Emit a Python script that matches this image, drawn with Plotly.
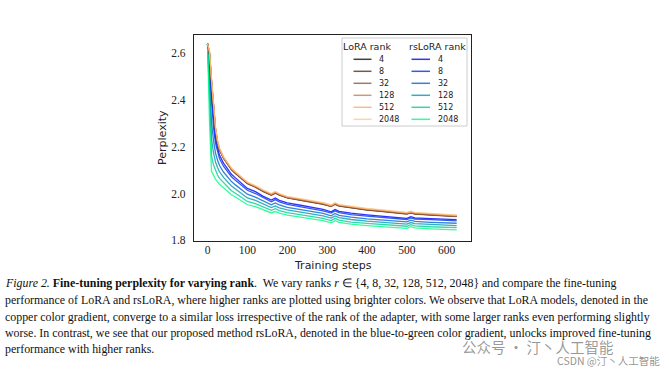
import plotly.graph_objects as go

steps = [0, 5, 10, 15, 20, 25, 30, 40, 50, 60, 70, 80, 90, 100, 120, 140, 160, 170, 180, 200,
         230, 260, 290, 310, 320, 330, 360, 400, 440, 480, 500, 510, 520, 560, 600, 625]

ranks = ["4", "8", "32", "128", "512", "2048"]

lora_4 = [2.640, 2.600, 2.480, 2.360, 2.275, 2.220, 2.188, 2.152, 2.127, 2.103, 2.087, 2.072, 2.057, 2.043, 2.028, 2.009, 1.994, 2.003, 1.994, 1.982, 1.973, 1.965, 1.955, 1.945, 1.955, 1.947, 1.939, 1.930, 1.924, 1.918, 1.913, 1.918, 1.913, 1.909, 1.905, 1.902]
lora_8 = [2.640, 2.598, 2.476, 2.357, 2.273, 2.219, 2.188, 2.153, 2.128, 2.104, 2.088, 2.073, 2.058, 2.044, 2.029, 2.010, 1.995, 2.004, 1.995, 1.983, 1.974, 1.966, 1.956, 1.946, 1.956, 1.948, 1.940, 1.931, 1.925, 1.919, 1.914, 1.919, 1.914, 1.910, 1.906, 1.903]
lora_32 = [2.640, 2.595, 2.470, 2.352, 2.270, 2.217, 2.186, 2.151, 2.126, 2.102, 2.086, 2.071, 2.056, 2.042, 2.027, 2.008, 1.993, 2.002, 1.993, 1.981, 1.972, 1.964, 1.954, 1.944, 1.954, 1.946, 1.938, 1.929, 1.923, 1.917, 1.912, 1.917, 1.912, 1.908, 1.904, 1.901]
lora_128 = [2.640, 2.600, 2.478, 2.358, 2.275, 2.221, 2.190, 2.154, 2.129, 2.105, 2.089, 2.074, 2.059, 2.045, 2.030, 2.011, 1.996, 2.005, 1.996, 1.984, 1.975, 1.967, 1.957, 1.947, 1.957, 1.949, 1.941, 1.932, 1.926, 1.920, 1.915, 1.920, 1.915, 1.911, 1.907, 1.904]
lora_512 = [2.640, 2.605, 2.485, 2.365, 2.280, 2.225, 2.192, 2.156, 2.131, 2.107, 2.091, 2.076, 2.061, 2.047, 2.032, 2.013, 1.998, 2.007, 1.998, 1.986, 1.977, 1.969, 1.959, 1.949, 1.959, 1.951, 1.943, 1.934, 1.928, 1.922, 1.917, 1.922, 1.917, 1.913, 1.909, 1.906]
lora_2048 = [2.640, 2.610, 2.490, 2.370, 2.284, 2.228, 2.195, 2.158, 2.133, 2.109, 2.093, 2.078, 2.063, 2.049, 2.034, 2.015, 2.000, 2.009, 2.000, 1.988, 1.979, 1.971, 1.961, 1.951, 1.961, 1.953, 1.945, 1.936, 1.930, 1.924, 1.919, 1.924, 1.919, 1.915, 1.911, 1.908]

rslora_4 = [2.640, 2.560, 2.420, 2.310, 2.235, 2.195, 2.165, 2.130, 2.105, 2.082, 2.067, 2.052, 2.035, 2.022, 2.008, 1.988, 1.972, 1.981, 1.971, 1.960, 1.951, 1.943, 1.932, 1.922, 1.932, 1.924, 1.916, 1.909, 1.903, 1.898, 1.894, 1.901, 1.896, 1.893, 1.890, 1.888]
rslora_8 = [2.640, 2.529, 2.381, 2.282, 2.214, 2.178, 2.150, 2.117, 2.094, 2.072, 2.057, 2.043, 2.026, 2.014, 2.000, 1.981, 1.965, 1.974, 1.964, 1.954, 1.945, 1.937, 1.926, 1.916, 1.926, 1.918, 1.910, 1.903, 1.898, 1.893, 1.889, 1.896, 1.891, 1.888, 1.885, 1.883]
rslora_32 = [2.640, 2.466, 2.303, 2.225, 2.173, 2.143, 2.120, 2.092, 2.071, 2.051, 2.037, 2.024, 2.009, 1.997, 1.985, 1.967, 1.952, 1.960, 1.951, 1.941, 1.933, 1.925, 1.915, 1.905, 1.915, 1.907, 1.899, 1.892, 1.887, 1.882, 1.879, 1.886, 1.881, 1.877, 1.874, 1.873]
rslora_128 = [2.640, 2.409, 2.232, 2.174, 2.135, 2.111, 2.093, 2.069, 2.050, 2.032, 2.019, 2.007, 1.993, 1.981, 1.971, 1.954, 1.940, 1.947, 1.939, 1.930, 1.922, 1.915, 1.904, 1.895, 1.904, 1.897, 1.889, 1.882, 1.877, 1.872, 1.869, 1.876, 1.871, 1.868, 1.865, 1.863]
rslora_512 = [2.640, 2.352, 2.160, 2.122, 2.097, 2.079, 2.065, 2.046, 2.029, 2.012, 2.001, 1.990, 1.977, 1.966, 1.957, 1.942, 1.928, 1.935, 1.927, 1.918, 1.911, 1.904, 1.894, 1.884, 1.894, 1.886, 1.878, 1.872, 1.867, 1.863, 1.860, 1.867, 1.862, 1.858, 1.855, 1.854]
rslora_2048 = [2.640, 2.300, 2.095, 2.075, 2.062, 2.050, 2.040, 2.025, 2.010, 1.995, 1.985, 1.975, 1.962, 1.952, 1.944, 1.930, 1.917, 1.923, 1.916, 1.908, 1.901, 1.894, 1.884, 1.875, 1.884, 1.877, 1.869, 1.863, 1.858, 1.854, 1.851, 1.858, 1.853, 1.849, 1.846, 1.845]

lora_series = [lora_4, lora_8, lora_32, lora_128, lora_512, lora_2048]
rslora_series = [rslora_4, rslora_8, rslora_32, rslora_128, rslora_512, rslora_2048]

copper = ["rgb(0,0,0)", "rgb(64,40,25)", "rgb(128,80,51)", "rgb(191,120,76)", "rgb(255,159,101)", "rgb(255,199,127)"]
winter = ["rgb(0,0,255)", "rgb(0,51,230)", "rgb(0,102,204)", "rgb(0,153,179)", "rgb(0,204,153)", "rgb(0,255,128)"]

fig = go.Figure()
for r, ys, c in zip(ranks, rslora_series, winter):
    fig.add_trace(go.Scatter(x=steps, y=ys, mode="lines", name="rsLoRA " + r,
                             line=dict(color=c, width=1.3), opacity=0.8, showlegend=False))
for r, ys, c in zip(ranks, lora_series, copper):
    fig.add_trace(go.Scatter(x=steps, y=ys, mode="lines", name="LoRA " + r,
                             line=dict(color=c, width=1.3), opacity=0.75, showlegend=False))

W, H = 669, 370
L, R, T, B = 194, 471, 35, 241

def px(xp):
    return (xp - L) / (R - L)

def py(yp):
    return (B - yp) / (B - T)

shapes = []
annotations = []

# legend box
shapes.append(dict(type="rect", xref="paper", yref="paper", x0=px(342), x1=px(467), y0=py(126), y1=py(38),
                   line=dict(color="#cccccc", width=1), fillcolor="white", layer="above"))
annotations.append(dict(text="LoRA rank", xref="paper", yref="paper", x=px(367), y=py(47), showarrow=False,
                        font=dict(family="DejaVu Sans", size=9.5, color="#222"), xanchor="center", yanchor="middle"))
annotations.append(dict(text="rsLoRA rank", xref="paper", yref="paper", x=px(437), y=py(47), showarrow=False,
                        font=dict(family="DejaVu Sans", size=9.5, color="#222"), xanchor="center", yanchor="middle"))
row_y = [59.3, 71.3, 83.3, 95.3, 107.3, 119.3]
for i, r in enumerate(ranks):
    yy = py(row_y[i])
    shapes.append(dict(type="line", xref="paper", yref="paper", x0=px(353.5), x1=px(371.5), y0=yy, y1=yy,
                       line=dict(color=copper[i], width=1.5), opacity=0.75, layer="above"))
    shapes.append(dict(type="line", xref="paper", yref="paper", x0=px(411.5), x1=px(430), y0=yy, y1=yy,
                       line=dict(color=winter[i], width=1.5), opacity=0.8, layer="above"))
    annotations.append(dict(text=r, xref="paper", yref="paper", x=px(376.5), y=yy, showarrow=False,
                            font=dict(family="DejaVu Sans", size=8, color="#222"), xanchor="left", yanchor="middle"))
    annotations.append(dict(text=r, xref="paper", yref="paper", x=px(435.5), y=yy, showarrow=False,
                            font=dict(family="DejaVu Sans", size=8, color="#222"), xanchor="left", yanchor="middle"))

# axis titles
annotations.append(dict(text="Perplexity", xref="paper", yref="paper", x=px(162), y=py(138), showarrow=False,
                        textangle=-90, font=dict(family="DejaVu Sans", size=11, color="#222"),
                        xanchor="center", yanchor="middle"))
annotations.append(dict(text="Training steps", xref="paper", yref="paper", x=px(333), y=py(265.5), showarrow=False,
                        font=dict(family="DejaVu Sans", size=11, color="#222"), xanchor="center", yanchor="middle"))

# caption
caption = [
    "<i>Figure 2.</i> <b>Fine-tuning perplexity for varying rank</b>.  We vary ranks <i>r</i> ∈ {4, 8, 32, 128, 512, 2048} and compare the fine-tuning",
    "performance of LoRA and rsLoRA, where higher ranks are plotted using brighter colors. We observe that LoRA models, denoted in the",
    "copper color gradient, converge to a similar loss irrespective of the rank of the adapter, with some larger ranks even performing slightly",
    "worse. In contrast, we see that our proposed method rsLoRA, denoted in the blue-to-green color gradient, unlocks improved fine-tuning",
    "performance with higher ranks.",
]
cap_y = [283, 300, 316.5, 333, 349]
for t, yy in zip(caption, cap_y):
    annotations.append(dict(text=t, xref="paper", yref="paper", x=px(3), y=py(yy), showarrow=False,
                            font=dict(family="Liberation Serif", size=11.9, color="#111"),
                            xanchor="left", yanchor="middle"))

# watermark
annotations.append(dict(text="公众号 · 汀丶人工智能", xref="paper", yref="paper", x=px(460), y=py(346), showarrow=False,
                        font=dict(family="Noto Sans CJK SC", size=14.5, color="rgba(120,120,120,0.75)"),
                        xanchor="left", yanchor="middle"))
annotations.append(dict(text="CSDN @汀丶人工智能", xref="paper", yref="paper", x=px(662), y=py(360), showarrow=False,
                        font=dict(family="Noto Sans CJK SC", size=10.5, color="rgba(120,120,120,0.8)"),
                        xanchor="right", yanchor="middle"))

fig.update_layout(
    width=W, height=H,
    margin=dict(l=L, r=W - R, t=T, b=H - B, pad=0),
    paper_bgcolor="white", plot_bgcolor="white",
    shapes=shapes, annotations=annotations,
    showlegend=False,
)
axis_common = dict(showgrid=False, zeroline=False, showline=True, linecolor="#222", linewidth=1.3,
                   mirror=True, ticks="", ticklen=0, tickfont=dict(family="Liberation Serif", size=11.5, color="#222"))
fig.update_xaxes(range=[-34, 661], tickvals=[0, 100, 200, 300, 400, 500, 600], ticklabelstandoff=-2, **axis_common)
fig.update_yaxes(range=[1.797, 2.678], tickvals=[1.8, 2.0, 2.2, 2.4, 2.6], ticktext=["1.8", "2.0", "2.2", "2.4", "2.6"],
                 ticklabelstandoff=5, **axis_common)

fig.write_html("out.html", config={"displayModeBar": False},
               post_script="document.body.style.margin='0';document.body.style.overflow='hidden';")
